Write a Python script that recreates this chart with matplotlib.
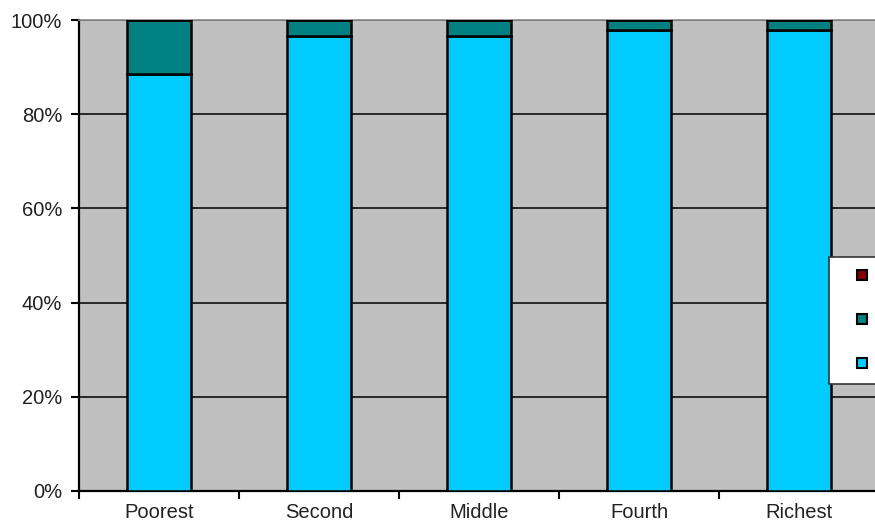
import matplotlib

matplotlib.use("Agg")

import matplotlib.pyplot as plt
from matplotlib.lines import Line2D

plt.rcParams["font.family"] = ["Liberation Sans", "DejaVu Sans"]

# wealth quintiles and share of households (%) per source type
quintiles = ["Poorest", "Second", "Middle", "Fourth", "Richest"]
improved = [88.5, 96.6, 96.6, 97.9, 97.9]
unimproved = [11.5, 3.4, 3.4, 2.1, 2.1]
missing = [0.0, 0.0, 0.0, 0.0, 0.0]

series_labels = ["Missing", "Unimproved", "Improved"]
colors = {"Improved": "#00CCFF", "Unimproved": "#008080", "Missing": "#800000"}

fig = plt.figure(figsize=(8.75, 5.24), dpi=100)
ax = fig.add_axes([79 / 875, 33 / 524, 800 / 875, 471 / 524])
ax.set_facecolor("#C0C0C0")

x = list(range(len(quintiles)))
bar_kw = dict(width=0.4, edgecolor="black", linewidth=1.8, zorder=3)
ax.bar(x, improved, color=colors["Improved"], **bar_kw)
ax.bar(x, unimproved, bottom=improved, color=colors["Unimproved"], **bar_kw)
tops = [a + b for a, b in zip(improved, unimproved)]
ax.bar(x, missing, bottom=tops, color=colors["Missing"], **bar_kw)

ax.set_xlim(-0.5, len(quintiles) - 0.5)
ax.set_ylim(0, 100)
ax.set_yticks(range(0, 101, 20))
ax.set_yticklabels([f"{v}%" for v in range(0, 101, 20)])
ax.yaxis.grid(True, color="black", linewidth=1.1, zorder=1)
ax.set_axisbelow(True)

ax.set_xticks(x)
ax.set_xticklabels(quintiles)
ax.set_xticks([i - 0.5 for i in range(len(quintiles) + 1)], minor=True)
ax.tick_params(axis="x", which="major", length=0, pad=9, labelsize=14.5, labelcolor="#222222")
ax.tick_params(axis="x", which="minor", length=6, width=1.5, direction="out", color="black")
ax.tick_params(axis="y", length=6, width=1.5, direction="out", pad=6, labelsize=14.5, labelcolor="#222222")

for side in ("left", "bottom"):
    ax.spines[side].set_color("black")
    ax.spines[side].set_linewidth(1.6)
ax.spines["top"].set_color("#8C8C8C")
ax.spines["top"].set_linewidth(1.2)
ax.spines["right"].set_visible(False)

handles = [
    Line2D([], [], marker="s", linestyle="none", markersize=7.5,
           markerfacecolor=colors[k], markeredgecolor="black", markeredgewidth=1.5)
    for k in series_labels
]
leg = fig.legend(
    handles,
    series_labels,
    loc="upper left",
    bbox_to_anchor=(829 / 875, 1 - 257 / 524),
    fontsize=14.5,
    handlelength=2.3,
    handletextpad=0.4,
    labelspacing=1.25,
    borderpad=0.5,
    borderaxespad=0,
    frameon=True,
    fancybox=False,
)
leg.get_frame().set_edgecolor("#333333")
leg.get_frame().set_linewidth(1.2)
leg.get_frame().set_facecolor("white")
leg.get_frame().set_alpha(1)

fig.savefig("out.png", dpi=100)
